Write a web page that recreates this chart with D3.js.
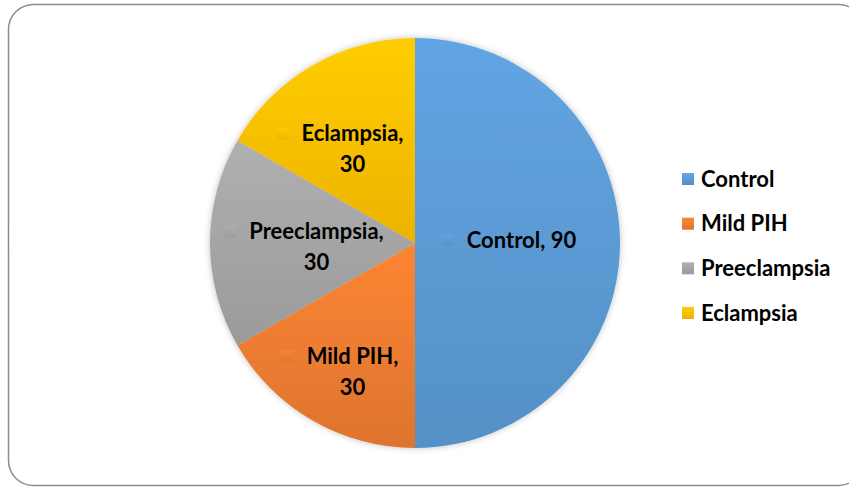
<!DOCTYPE html>
<html>
<head>
<meta charset="utf-8">
<script src="https://cdn.jsdelivr.net/npm/d3@7"></script>
<style>
  body { margin: 0; background: #fff; }
  svg { display: block; font-family: Lato, "Open Sans", sans-serif; font-weight: bold; }
</style>
</head>
<body>
<svg id="chart" width="849" height="487"></svg>
<script>
var categories = ["Control", "Mild PIH", "Preeclampsia", "Eclampsia"],
    values = [90, 30, 30, 30],
    colors = ["#5B9BD5", "#ED7D31", "#A5A5A5", "#FFC000"];

var svg = d3.select("#chart"),
    WIDTH = 849,
    HEIGHT = 487,
    CX = 415,
    CY = 243,
    R = 205,
    LABEL_R = 120,
    LINE_GAP = 31,
    FONT = 22;

// nudges so labels sit like excel's "best fit"
var labelNudge = [[-26, -3], [-15, 25], [9, 4], [-15, 10]];

var data = categories.map(function(c, i) {
  return { name: c, value: values[i], color: colors[i] };
});

var defs = svg.append("defs");

data.forEach(function(d, i) {
  var g = defs.append("linearGradient")
      .attr("id", "grad" + i)
      .attr("x1", 0).attr("y1", 0).attr("x2", 0).attr("y2", 1);
  g.append("stop").attr("offset", "0%").attr("stop-color", d3.color(d.color).brighter(0.18));
  g.append("stop").attr("offset", "100%").attr("stop-color", d3.color(d.color).darker(0.2));
});

var shadow = defs.append("filter").attr("id", "shadow")
    .attr("x", "-10%").attr("y", "-10%").attr("width", "120%").attr("height", "120%");
shadow.append("feDropShadow")
    .attr("dx", 0).attr("dy", 0).attr("stdDeviation", 3)
    .attr("flood-color", "#000").attr("flood-opacity", 0.25);

// frame
svg.append("rect")
    .attr("x", 8.5).attr("y", 4.5)
    .attr("width", 855).attr("height", 481)
    .attr("rx", 25).attr("ry", 25)
    .attr("fill", "none")
    .attr("stroke", "#8c8c8c")
    .attr("stroke-width", 1.5);

var pie = d3.pie().sort(null).value(function(d) { return d.value; });
var arcs = pie(data);

var arc = d3.arc().innerRadius(0).outerRadius(R);
var labelArc = d3.arc().innerRadius(LABEL_R).outerRadius(LABEL_R);

var pieG = svg.append("g")
    .attr("transform", "translate(" + CX + "," + CY + ")");

pieG.append("g")
    .attr("filter", "url(#shadow)")
  .selectAll("path")
  .data(arcs)
  .enter().append("path")
    .attr("d", arc)
    .attr("fill", function(d, i) { return "url(#grad" + i + ")"; });

// data labels
var labels = pieG.selectAll("g.lbl")
  .data(arcs)
  .enter().append("g")
    .attr("class", "lbl");

labels.each(function(d, i) {
  var g = d3.select(this),
      c = labelArc.centroid(d),
      x = c[0] + labelNudge[i][0],
      y = c[1] + labelNudge[i][1],
      single = d.data.name === "Control",
      line1 = single ? d.data.name + ", " + d.data.value : d.data.name + ",",
      nLines = single ? 1 : 2,
      top = y - (nLines - 1) * LINE_GAP / 2;

  var t1 = g.append("text")
      .attr("font-size", FONT)
      .attr("fill", "#000")
      .attr("dy", "0.35em")
      .text(line1);
  var w = t1.node().getComputedTextLength(),
      blockW = 12 + 13 + w,
      left = x - blockW / 2;

  g.append("rect")
      .attr("x", left).attr("y", top - 6)
      .attr("width", 12).attr("height", 12)
      .attr("fill", "url(#grad" + i + ")")
      .attr("opacity", 0.8);

  t1.attr("x", left + 25).attr("y", top);

  if (!single) {
    g.append("text")
        .attr("font-size", FONT)
        .attr("fill", "#000")
        .attr("text-anchor", "middle")
        .attr("dy", "0.35em")
        .attr("x", left + 25 + w / 2)
        .attr("y", top + LINE_GAP)
        .text(d.data.value);
  }
});

// legend
var legendY = d3.scalePoint()
    .domain(categories)
    .range([179, 313]);

var legend = svg.append("g").selectAll("g")
  .data(data)
  .enter().append("g")
    .attr("transform", function(d) { return "translate(682," + legendY(d.name) + ")"; });

legend.append("rect")
    .attr("x", 0).attr("y", -6)
    .attr("width", 12).attr("height", 12)
    .attr("fill", function(d, i) { return "url(#grad" + i + ")"; });

legend.append("text")
    .attr("x", 19)
    .attr("dy", "0.35em")
    .attr("font-size", FONT)
    .attr("fill", "#000")
    .text(function(d) { return d.name; });
</script>
</body>
</html>
